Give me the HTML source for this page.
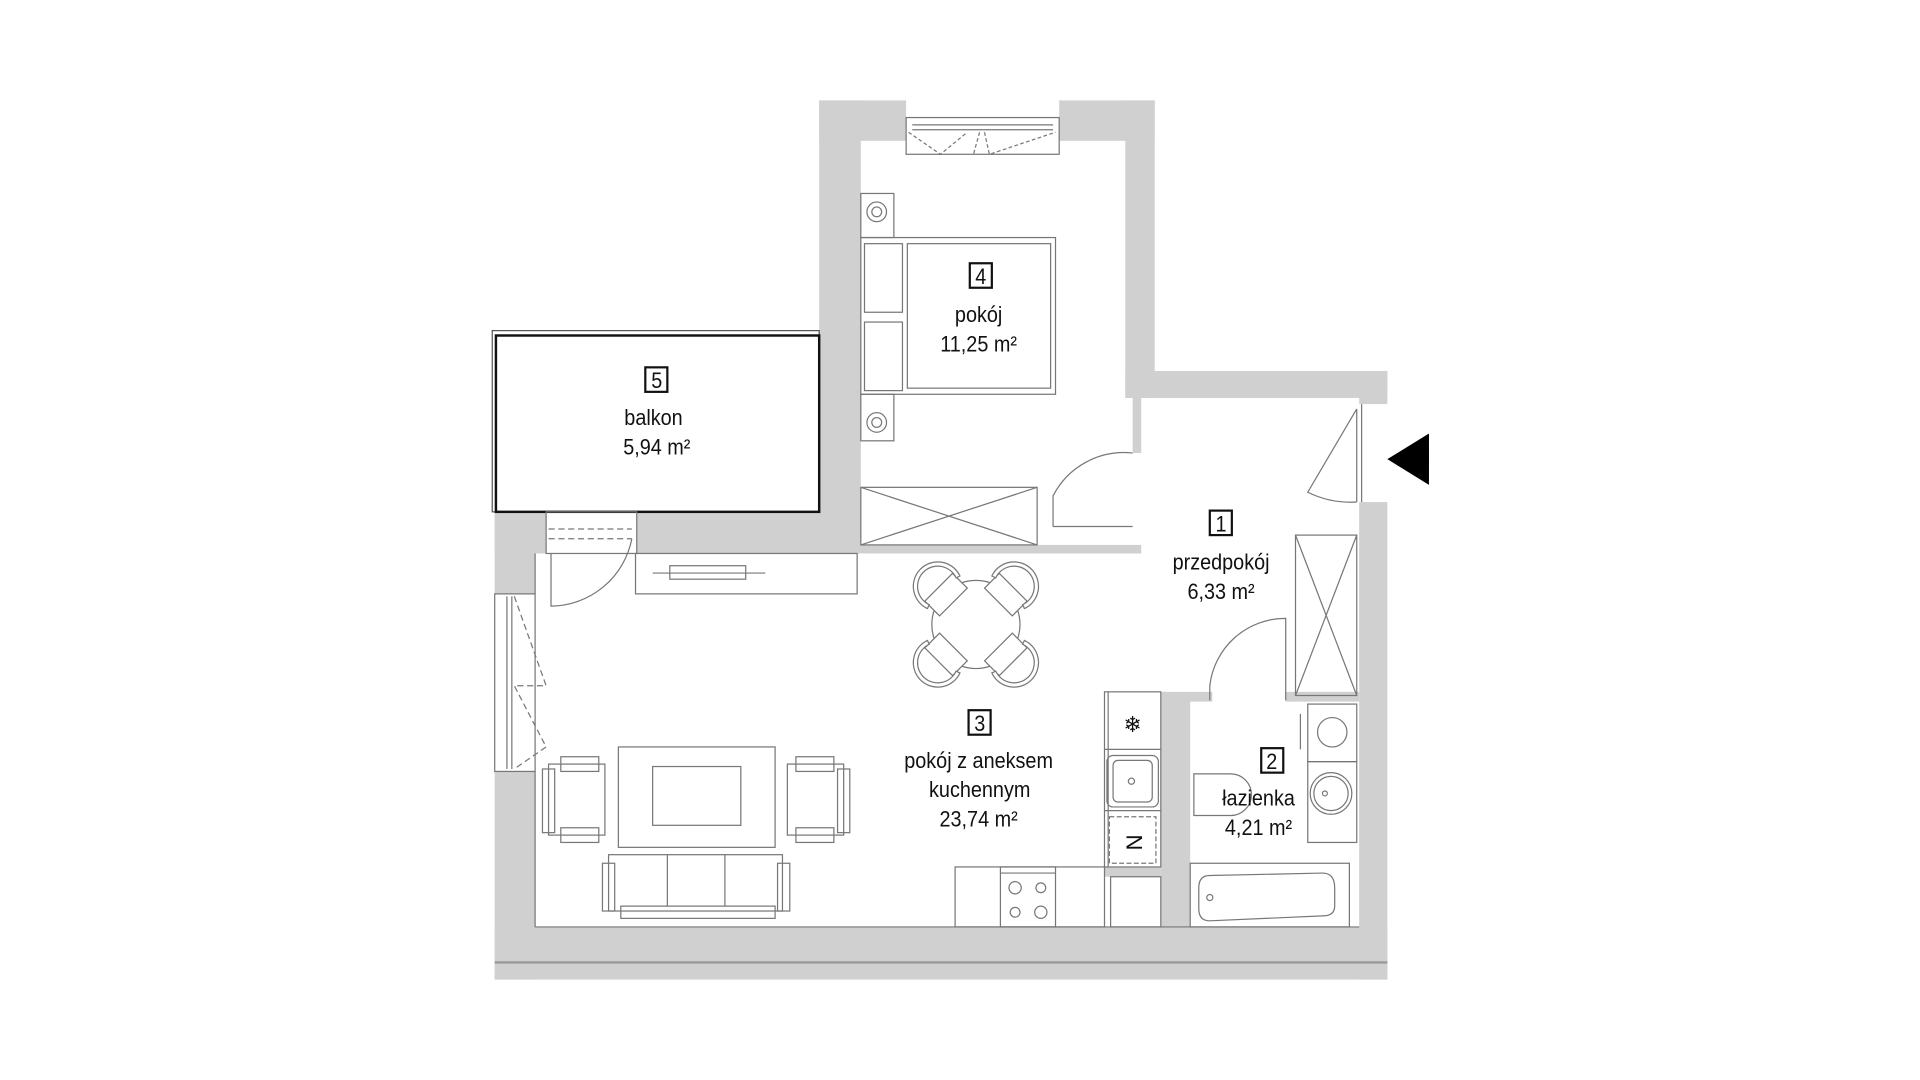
<!DOCTYPE html>
<html><head><meta charset="utf-8"><style>
html,body{margin:0;padding:0;background:#fff;width:1920px;height:1080px;overflow:hidden}
svg{display:block}
text{font-family:"Liberation Sans Narrow","Liberation Sans",sans-serif;font-size:18px;fill:#111;text-anchor:middle}
</style></head><body>
<svg width="1920" height="1080" viewBox="0 0 1568 882" preserveAspectRatio="none" xmlns="http://www.w3.org/2000/svg">
<defs>
<g id="chair">
 <rect x="26" y="-16" width="17" height="32" fill="#fff"/>
 <path d="M37.2 -18.8 A20 20 0 1 1 37.2 18.8 L38.4 15.5 A16.5 16.5 0 1 0 38.4 -15.5 Z" fill="#fff"/>
</g>
</defs>
<g fill="#d0d0d0" stroke="none">
 <rect x="669" y="82" width="34" height="370"/>
 <rect x="669" y="82" width="71" height="33"/>
 <rect x="865" y="82" width="78" height="33"/>
 <rect x="919" y="82" width="24" height="243"/>
 <rect x="919" y="303" width="214" height="22"/>
 <rect x="1110" y="303" width="23" height="27"/>
 <rect x="1110" y="410" width="23" height="390"/>
 <rect x="520" y="418" width="183" height="34"/>
 <rect x="404" y="418" width="42" height="34"/>
 <rect x="404" y="418" width="33" height="67"/>
 <rect x="404" y="630" width="33" height="170"/>
 <rect x="404" y="757" width="729" height="43"/>
 <rect x="925" y="325" width="7" height="45"/>
 <rect x="703" y="445" width="229" height="7"/>
 <rect x="958" y="572" width="14" height="185"/>
 <rect x="958" y="565" width="32" height="8"/>
 <rect x="1050" y="565" width="60" height="8"/>
 <rect x="948" y="565" width="10" height="192"/>
 <rect x="902" y="708" width="46" height="8"/>
</g>
<g fill="none" stroke="#777" stroke-width="1">
 <line x1="404" y1="786" x2="1133" y2="786" stroke="#999" stroke-width="2"/>
 <line x1="437" y1="452" x2="437" y2="485"/>
 <line x1="437" y1="630" x2="437" y2="757"/>
 <line x1="437" y1="757" x2="1110" y2="757"/>
 <rect x="740" y="96" width="125" height="30"/>
 <line x1="745" y1="102" x2="860" y2="102"/>
 <line x1="745" y1="106" x2="860" y2="106"/>
 <path d="M742 108 L768 126 L790 108 M800 108 L795 126 M804 108 L808 126 L862 108" stroke-dasharray="3,2"/>
 <rect x="703" y="158" width="27" height="36"/>
 <rect x="703" y="322" width="27" height="38"/>
 <circle cx="716" cy="173" r="8"/><circle cx="716" cy="173" r="4"/>
 <circle cx="716" cy="345" r="8"/><circle cx="716" cy="345" r="4"/>
 <rect x="703" y="194" width="159" height="128"/>
 <rect x="741" y="199" width="117" height="118"/>
 <rect x="706" y="199" width="31" height="56"/>
 <rect x="706" y="263" width="31" height="56"/>
 <rect x="703" y="398" width="144" height="47"/>
 <path d="M703 398 L847 445 M703 445 L847 398"/>
 <path d="M860 430 L860 405 A65 65 0 0 1 925 370"/>
 <line x1="860" y1="430" x2="925" y2="430"/>
 <rect x="402" y="270" width="267" height="148" stroke="#555"/>
 <rect x="405" y="274" width="264" height="144" stroke="#111" stroke-width="2"/>
 <rect x="446" y="418" width="74" height="34"/>
 <path d="M448 432 L516 432 M448 440 L516 440" stroke-dasharray="5,3"/>
 <path d="M450 452 L450 495 A68 68 0 0 0 516 440"/>
 <rect x="404" y="485" width="33" height="145"/>
 <line x1="414" y1="487" x2="414" y2="628"/><line x1="418" y1="487" x2="418" y2="628"/>
 <path d="M420 487 L446 560 L420 560 L446 610 L420 628" stroke-dasharray="5,3"/>
 <rect x="519" y="452" width="181" height="33"/>
 <rect x="547" y="462" width="62" height="11"/>
 <line x1="533" y1="468" x2="625" y2="468"/>
 <!-- dining -->
 <circle cx="797" cy="510" r="36"/>
 <use href="#chair" transform="translate(797,510) rotate(-135)"/>
 <use href="#chair" transform="translate(797,510) rotate(-45)"/>
 <use href="#chair" transform="translate(797,510) rotate(45)"/>
 <use href="#chair" transform="translate(797,510) rotate(135)"/>
 <rect x="505" y="610" width="128" height="82"/>
 <rect x="533" y="626" width="72" height="48"/>
 <rect x="448" y="624" width="46" height="58"/>
 <rect x="443" y="628" width="10" height="52"/>
 <rect x="458" y="618" width="31" height="12"/><rect x="458" y="676" width="31" height="12"/>
 <rect x="643" y="624" width="46" height="58"/>
 <rect x="684" y="628" width="10" height="52"/>
 <rect x="650" y="618" width="31" height="12"/><rect x="650" y="676" width="31" height="12"/>
 <rect x="497" y="698" width="142" height="46"/>
 <line x1="545" y1="698" x2="545" y2="740"/><line x1="592" y1="698" x2="592" y2="740"/>
 <rect x="492" y="705" width="10" height="39"/><rect x="635" y="705" width="10" height="39"/>
 <rect x="507" y="740" width="126" height="10"/>
 <rect x="780" y="708" width="122" height="49"/>
 <rect x="817" y="708" width="45" height="49"/>
 <line x1="817" y1="713" x2="862" y2="713"/>
 <circle cx="829" cy="725" r="5"/><circle cx="850" cy="725" r="4"/>
 <circle cx="829" cy="745" r="4"/><circle cx="850" cy="745" r="5"/>
 <rect x="902" y="565" width="46" height="143"/>
 <line x1="905" y1="565" x2="905" y2="708"/>
 <line x1="902" y1="612" x2="948" y2="612"/><line x1="902" y1="662" x2="948" y2="662"/>
 <rect x="904" y="617" width="42" height="42" rx="5"/>
 <rect x="909" y="621" width="32" height="34" rx="4"/>
 <circle cx="924" cy="638" r="2.5"/>
 <rect x="906" y="667" width="38" height="38" stroke-dasharray="4,2"/>
 <rect x="907" y="716" width="41" height="41"/>
 <path d="M1112 330 L1112 410 M1108 334 L1108 410"/>
 <path d="M1108 334 L1068 402 A80 80 0 0 0 1108 410"/>
 <rect x="1058" y="437" width="50" height="131"/>
 <path d="M1058 437 L1108 568 M1108 437 L1058 568"/>
 <path d="M988 572 L988 560 A62 62 0 0 1 1050 505 L1050 572"/>
 <rect x="1068" y="575" width="40" height="47"/>
 <circle cx="1088" cy="598" r="12"/>
 <line x1="1062" y1="583" x2="1062" y2="612"/>
 <rect x="1068" y="622" width="40" height="66"/>
 <circle cx="1087" cy="648" r="17"/><circle cx="1087" cy="648" r="14"/>
 <circle cx="1082" cy="648" r="2"/>
 <path d="M975 632 L1005 632 A17 17 0 0 1 1005 666 L975 666 Z"/>
 <rect x="972" y="705" width="130" height="52"/>
 <path d="M988 715 L1080 713 Q1090 713 1090 725 L1090 740 Q1090 748 1080 748 L988 752 Q979 752 979 742 L979 725 Q979 715 988 715 Z"/>
 <circle cx="988" cy="733" r="2.5"/>
</g>
<text x="925" y="598" style="font-size:18px">❄</text>
<text x="926" y="694" style="font-size:18px" transform="rotate(90 926 688)">N</text>
<polygon points="1133,375 1167,354 1167,396" fill="#000"/>
<g fill="none" stroke="#111" stroke-width="1.8">
 <rect x="792" y="215" width="18" height="20"/>
 <rect x="527" y="300" width="18" height="20"/>
 <rect x="988" y="417" width="18" height="20"/>
 <rect x="791" y="580" width="18" height="20"/>
 <rect x="1030" y="611" width="18" height="20"/>
</g>
<g transform="scale(0.9,1)">
<text x="890" y="232">4</text>
<text x="888" y="263">pokój</text>
<text x="888" y="287">11,25 m²</text>
<text x="596" y="317">5</text>
<text x="593" y="347">balkon</text>
<text x="596" y="371">5,94 m²</text>
<text x="1108" y="434">1</text>
<text x="1108" y="465">przedpokój</text>
<text x="1108" y="489">6,33 m²</text>
<text x="889" y="597">3</text>
<text x="888" y="627">pokój z aneksem</text>
<text x="889" y="651">kuchennym</text>
<text x="888" y="675">23,74 m²</text>
<text x="1154" y="628">2</text>
<text x="1142" y="658">łazienka</text>
<text x="1142" y="682">4,21 m²</text>
</g>
</svg>
</body></html>
